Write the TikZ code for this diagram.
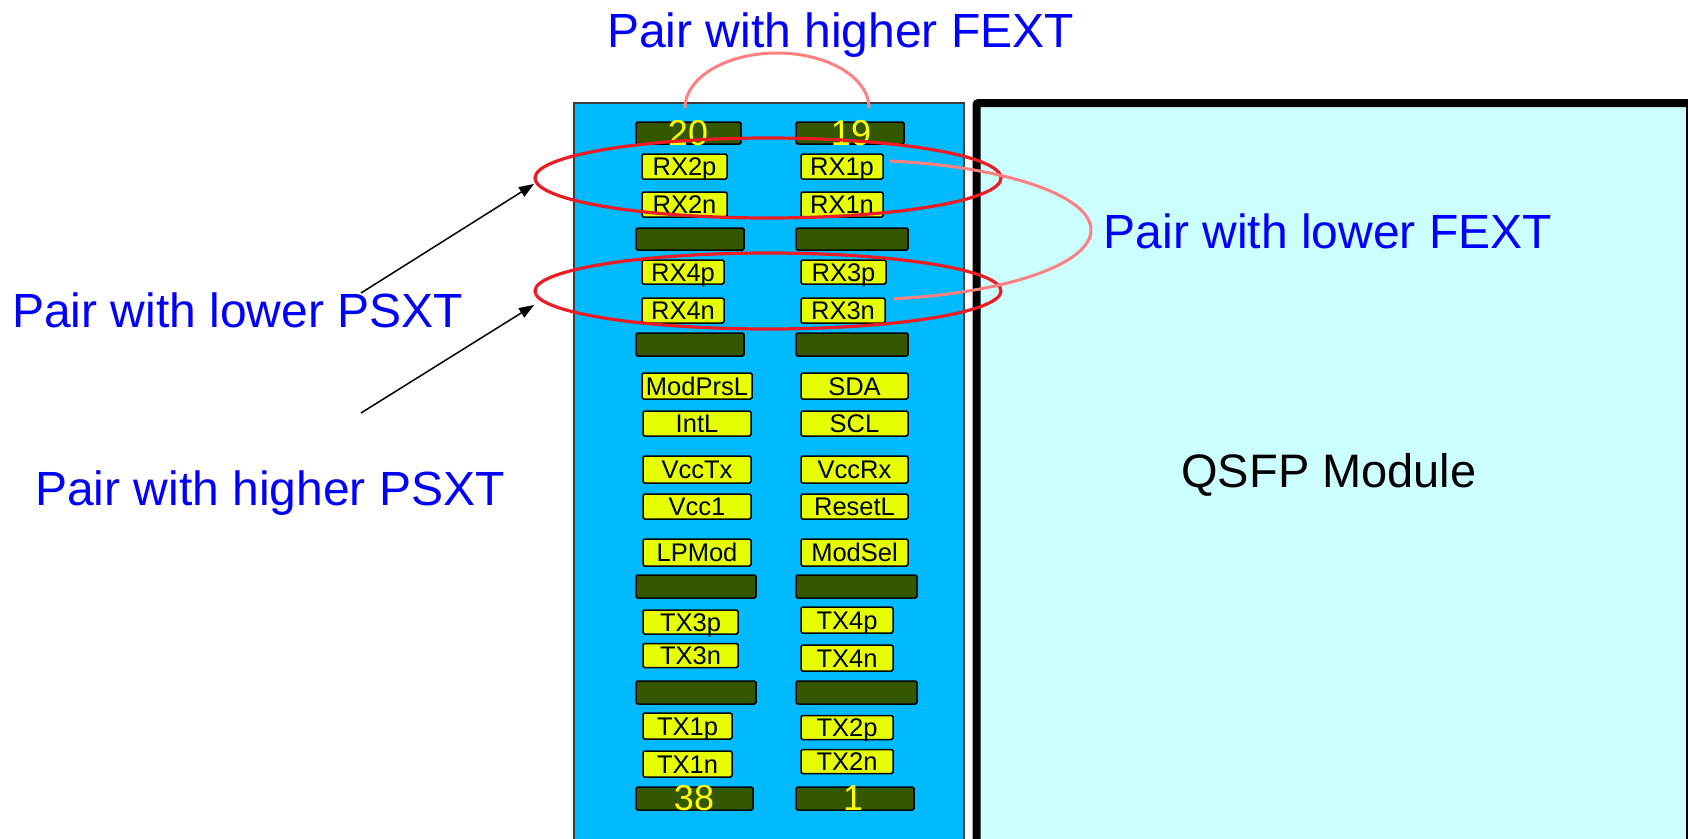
\documentclass[tikz,border=0pt]{standalone}
\usepackage{fontspec}
\setmainfont{Liberation Sans}
\usetikzlibrary{shapes.geometric,arrows.meta}
\definecolor{blueconn}{RGB}{0,186,255}
\definecolor{qsfpcyan}{RGB}{204,255,255}
\definecolor{pingreen}{RGB}{51,88,0}
\definecolor{pinyellow}{RGB}{230,255,0}
\definecolor{numyellow}{RGB}{255,255,0}
\definecolor{ellred}{RGB}{236,28,36}
\definecolor{arcpink}{RGB}{255,128,128}
\definecolor{labelblue}{RGB}{0,0,255}
\tikzset{
  ypin/.style={draw=black, line width=1.5pt, fill=pinyellow, rounded corners=1.5pt,
    inner sep=0pt, font=\fontsize{25.5}{25.5}\selectfont, text height=21pt, text depth=3pt},
  dpin/.style={draw=black, line width=1.5pt, fill=pingreen, rounded corners=1.5pt,
    inner sep=0pt},
  numtxt/.style={text=numyellow, font=\fontsize{36}{36}\selectfont, inner sep=0pt},
  bigtxt/.style={text=labelblue, font=\fontsize{48}{48}\selectfont, inner sep=0pt, anchor=base},
  pairring/.style={draw=ellred, line width=3.2pt, ellipse, inner sep=0pt},
  pinkarc/.style={draw=arcpink, line width=3pt},
  pointer/.style={draw=black, line width=1.5pt, -{Triangle[length=15pt,width=11pt]}}
}
\newcommand\ypinat[5]{\node[ypin, minimum width=#3pt, minimum height=#4pt] (#5) at (#1,#2) {#5};}
\begin{document}
\begin{tikzpicture}[x=1pt,y=-1pt]
\useasboundingbox (0,0) rectangle (1688,838);
\clip (0,0) rectangle (1688,838);
% QSFP module
\node[draw=black, line width=8pt, fill=qsfpcyan, rounded corners=2pt, inner sep=0pt,
  minimum width=713.5pt, minimum height=743pt, anchor=north west] (qsfp) at (972.5,99) {};
\node[font=\fontsize{47}{47}\selectfont, inner sep=0pt, anchor=base] (qsfptxt) at (1329,487) {QSFP Module};
% connector body
\node[draw={rgb,255:red,60;green,60;blue,60}, line width=1.5pt, fill=blueconn, inner sep=0pt,
  minimum width=390pt, minimum height=760pt, anchor=north west] (conn) at (573,102) {};
% dark pins, left
\node[dpin, minimum width=105pt, minimum height=22pt] (d20) at (688.5,133) {};
\node[dpin, minimum width=108pt, minimum height=22pt] (dl2) at (690,239) {};
\node[dpin, minimum width=108pt, minimum height=23pt] (dl3) at (690,344.5) {};
\node[dpin, minimum width=120pt, minimum height=23pt] (dl4) at (696,586.5) {};
\node[dpin, minimum width=120pt, minimum height=23pt] (dl5) at (696,692.5) {};
\node[dpin, minimum width=117pt, minimum height=23pt] (d38) at (694.5,798.5) {};
% dark pins, right
\node[dpin, minimum width=108pt, minimum height=22pt] (d19) at (850,133) {};
\node[dpin, minimum width=112pt, minimum height=22pt] (dr2) at (852,239) {};
\node[dpin, minimum width=112pt, minimum height=23pt] (dr3) at (852,344.5) {};
\node[dpin, minimum width=121pt, minimum height=23pt] (dr4) at (856.5,586.5) {};
\node[dpin, minimum width=121pt, minimum height=23pt] (dr5) at (856.5,692.5) {};
\node[dpin, minimum width=118pt, minimum height=23pt] (d1) at (855,798.5) {};
% pin numbers
\node[numtxt] (n20) at (688,133.5) {20};
\node[numtxt] (n19) at (851,133.5) {19};
\node[numtxt] (n38) at (694,798) {38};
\node[numtxt] (n1) at (853,798) {1};
% yellow pins, left
\ypinat{684.5}{166.5}{85}{25}{RX2p}
\ypinat{684.5}{204.5}{85}{25}{RX2n}
\ypinat{683}{272}{82}{24}{RX4p}
\ypinat{683}{310.5}{82}{25}{RX4n}
\ypinat{697}{386}{110}{26}{ModPrsL}
\ypinat{697}{423.5}{108}{25}{IntL}
\ypinat{697}{469.5}{108}{27}{VccTx}
\ypinat{697}{506.5}{108}{25}{Vcc1}
\ypinat{697}{552.5}{108}{27}{LPMod}
\ypinat{690.5}{622}{95}{22}{TX3p}
\ypinat{690.5}{655.5}{95}{23}{TX3n}
\ypinat{687.5}{726}{89}{26}{TX1p}
\ypinat{687.5}{764}{89}{26}{TX1n}
% yellow pins, right
\ypinat{842}{166.5}{82}{25}{RX1p}
\ypinat{842}{204.5}{82}{25}{RX1n}
\ypinat{843.5}{272}{85}{24}{RX3p}
\ypinat{843}{310.5}{84}{25}{RX3n}
\ypinat{854.5}{386}{107}{26}{SDA}
\ypinat{854.5}{423.5}{107}{25}{SCL}
\ypinat{854.5}{469.5}{107}{27}{VccRx}
\ypinat{854.5}{506.5}{107}{25}{ResetL}
\ypinat{854.5}{552.5}{107}{27}{ModSel}
\ypinat{847}{620}{92}{26}{TX4p}
\ypinat{847}{658}{92}{26}{TX4n}
\ypinat{847}{727.5}{92}{23}{TX2p}
\ypinat{847}{761.5}{92}{23}{TX2n}
% pair rings
\node[pairring, minimum width=466pt, minimum height=80pt] (ringA) at (768,178) {};
\node[pairring, minimum width=466pt, minimum height=76pt] (ringB) at (768,291) {};
% FEXT arcs
\draw[pinkarc] plot[domain=180:360, samples=80] ({777+92*cos(\x)}, {108+55*sin(\x)});
\draw[pinkarc] plot[domain=-80.5:79.5, samples=80] ({850+241*cos(\x)}, {230+70*sin(\x)});
% labels
\node[bigtxt] (hfext) at (840.5,47) {Pair with higher FEXT};
\node[bigtxt] (lfext) at (1328,248) {Pair with lower FEXT};
\node[bigtxt] (lpsxt) at (237.5,327) {Pair with lower PSXT};
\node[bigtxt] (hpsxt) at (270,505) {Pair with higher PSXT};
% pointers
\coordinate (s1) at (361,293);
\coordinate (s2) at (361,413);
\coordinate (t1) at (534,184);
\coordinate (t2) at (534,305);
\draw[pointer] (s1) -- (t1);
\draw[pointer] (s2) -- (t2);
\end{tikzpicture}
\end{document}
